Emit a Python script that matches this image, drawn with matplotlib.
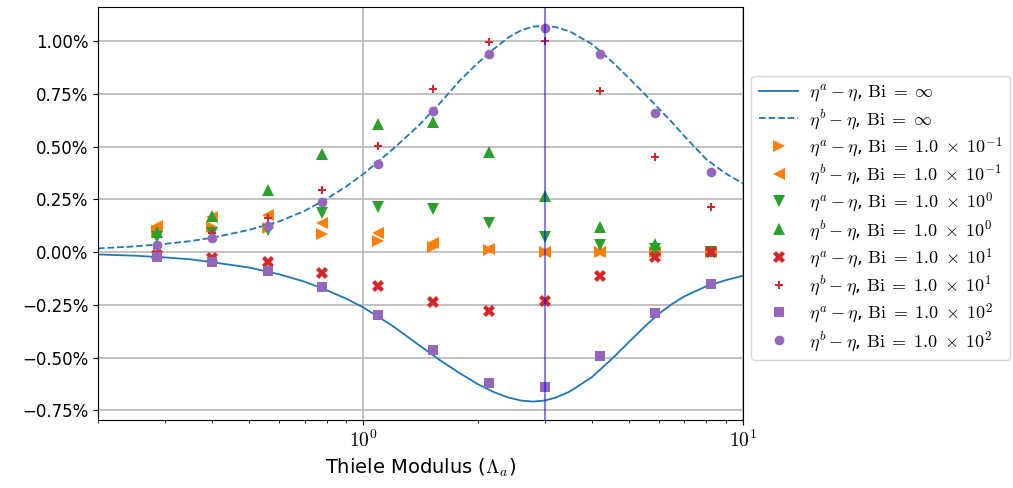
import matplotlib
matplotlib.use("Agg")
import matplotlib.pyplot as plt
from matplotlib.ticker import PercentFormatter

plt.rcParams['mathtext.fontset'] = 'cm'

# smooth curves for Bi = inf (percent)
curve_x = [0.2, 0.25, 0.3, 0.35, 0.4, 0.5, 0.6, 0.7, 0.8, 0.9, 1.0, 1.2, 1.4, 1.6,
           1.8, 2.0, 2.2, 2.4, 2.6, 2.8, 3.0, 3.2, 3.5, 4.0, 4.5, 5.0, 5.5, 6.0,
           6.5, 7.0, 8.0, 9.0, 10.0]
eta_a_inf = [-0.011, -0.017, -0.025, -0.034, -0.048, -0.073, -0.105, -0.14, -0.18,
             -0.22, -0.262, -0.352, -0.44, -0.515, -0.575, -0.625, -0.662, -0.688,
             -0.703, -0.708, -0.703, -0.69, -0.66, -0.592, -0.508, -0.427, -0.354,
             -0.292, -0.246, -0.21, -0.162, -0.133, -0.112]
eta_b_inf = [0.0175, 0.027, 0.039, 0.052, 0.068, 0.105, 0.145, 0.195, 0.252, 0.31,
             0.37, 0.49, 0.60, 0.71, 0.815, 0.895, 0.96, 1.015, 1.05, 1.068, 1.072,
             1.066, 1.045, 0.985, 0.905, 0.825, 0.75, 0.68, 0.615, 0.55, 0.44,
             0.372, 0.325]

# simulated points (percent)
lam = [0.286, 0.40, 0.56, 0.78, 1.09, 1.53, 2.14, 3.0, 4.2, 5.88, 8.23]
a_bi01 = [0.10, 0.117, 0.112, 0.085, 0.052, 0.025, 0.01, 0.0, 0.0, 0.0, 0.0]
b_bi01 = [0.123, 0.167, 0.175, 0.139, 0.089, 0.041, 0.015, 0.002, 0.001, 0.0, 0.0]
a_bi1 = [0.07, 0.09, 0.104, 0.183, 0.215, 0.204, 0.139, 0.073, 0.033, 0.015, 0.002]
b_bi1 = [0.093, 0.172, 0.294, 0.464, 0.607, 0.618, 0.472, 0.265, 0.12, 0.038, 0.005]
a_bi10 = [-0.015, -0.027, -0.049, -0.098, -0.161, -0.238, -0.28, -0.231, -0.114, -0.025, 0.002]
b_bi10 = [0.02, 0.09, 0.163, 0.294, 0.504, 0.771, 0.994, 1.001, 0.765, 0.449, 0.212]
a_bi100 = [-0.025, -0.046, -0.09, -0.167, -0.299, -0.464, -0.618, -0.641, -0.493, -0.288, -0.153]
b_bi100 = [0.036, 0.068, 0.125, 0.235, 0.416, 0.668, 0.937, 1.063, 0.94, 0.66, 0.379]

fig = plt.figure(figsize=(10.13, 4.88), dpi=100)
ax = fig.add_axes([0.0967, 0.139, 0.6368, 0.8467])

ax.plot(curve_x, eta_a_inf, '-', color='C0', lw=1.3,
        label=r'$\eta^a - \eta$, $\mathrm{Bi} \;=\; \infty$')
ax.plot(curve_x, eta_b_inf, '--', color='C0', lw=1.3,
        label=r'$\eta^b - \eta$, $\mathrm{Bi} \;=\; \infty$')

series = [
    (a_bi01, '>', 'C1', 8, r'$\eta^a - \eta$, $\mathrm{Bi} \;=\; 1.0 \;\times\; 10^{-1}$'),
    (b_bi01, '<', 'C1', 8, r'$\eta^b - \eta$, $\mathrm{Bi} \;=\; 1.0 \;\times\; 10^{-1}$'),
    (a_bi1, 'v', 'C2', 8, r'$\eta^a - \eta$, $\mathrm{Bi} \;=\; 1.0 \;\times\; 10^{0}$'),
    (b_bi1, '^', 'C2', 8, r'$\eta^b - \eta$, $\mathrm{Bi} \;=\; 1.0 \;\times\; 10^{0}$'),
    (a_bi10, 'X', 'C3', 8, r'$\eta^a - \eta$, $\mathrm{Bi} \;=\; 1.0 \;\times\; 10^{1}$'),
    (b_bi10, 'P', 'C3', 6, r'$\eta^b - \eta$, $\mathrm{Bi} \;=\; 1.0 \;\times\; 10^{1}$'),
    (a_bi100, 's', 'C4', 7, r'$\eta^a - \eta$, $\mathrm{Bi} \;=\; 1.0 \;\times\; 10^{2}$'),
    (b_bi100, 'o', 'C4', 7, r'$\eta^b - \eta$, $\mathrm{Bi} \;=\; 1.0 \;\times\; 10^{2}$'),
]
for vals, mk, col, ms, lab in series:
    ax.plot(lam, vals, linestyle='none', marker=mk, color=col, ms=ms,
            markeredgewidth=0, label=lab)

ax.axvline(3.0, color='blue', alpha=0.5, lw=1.5)

ax.set_xscale('log')
ax.set_xlim(0.2, 10)
ax.set_xticks([1, 10])
ax.set_xticklabels([r'$10^{0}$', r'$10^{1}$'], fontsize=14)
ax.set_ylim(-0.796, 1.161)
ax.set_yticks([-0.75, -0.5, -0.25, 0, 0.25, 0.5, 0.75, 1.0])
ax.yaxis.set_major_formatter(PercentFormatter(xmax=100, decimals=2))
ax.grid(True, which='major', color='0.72', lw=1.2)
ax.set_axisbelow(True)
ax.tick_params(axis='y', labelsize=12)
ax.set_xlabel(r'Thiele Modulus ($\Lambda_a$)', fontsize=14)

ax.legend(loc='center left', bbox_to_anchor=(1.013, 0.49), fontsize=13,
          labelspacing=0.22, handlelength=2.2, handletextpad=0.6,
          borderaxespad=0.0)

fig.savefig('out.png', dpi=100)
